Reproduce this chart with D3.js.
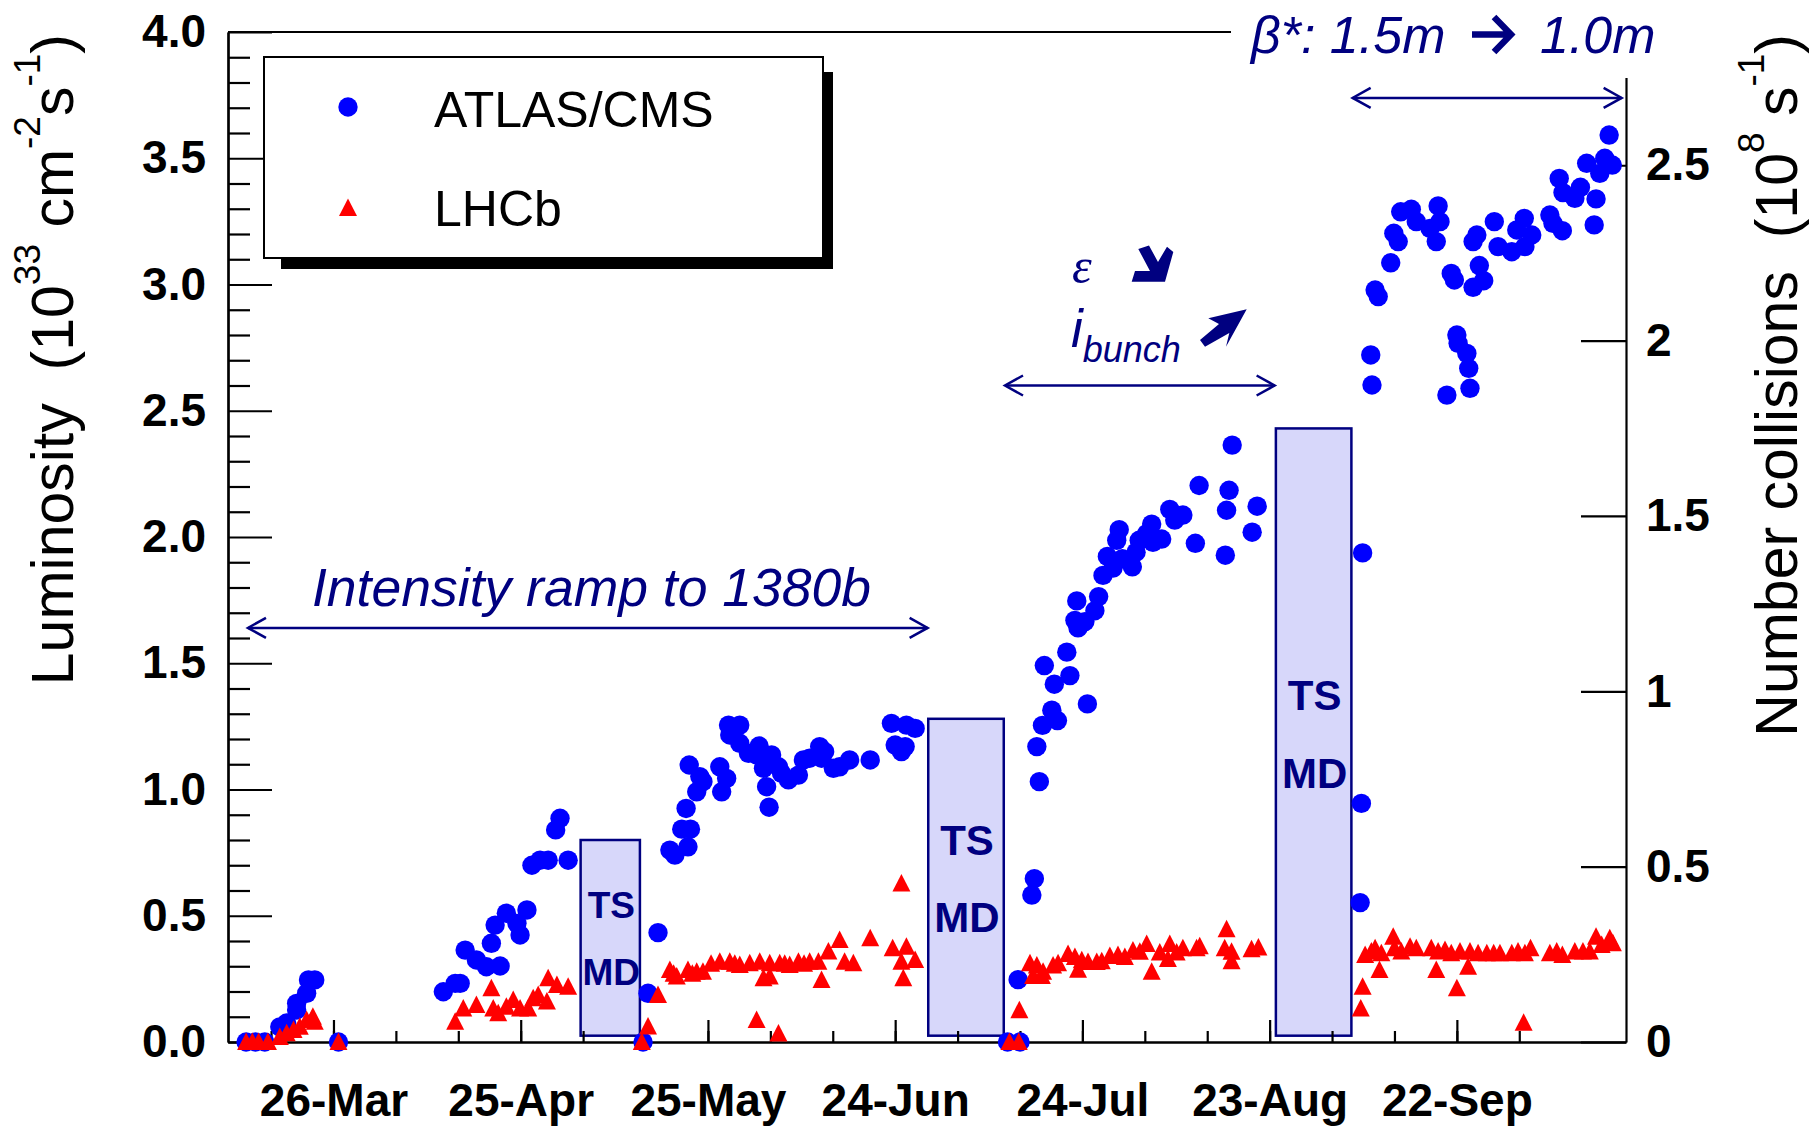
<!DOCTYPE html>
<html lang="en">
<head>
<meta charset="UTF-8" />
<title>LHC 2011 peak luminosity</title>
<script src="https://d3js.org/d3.v7.min.js"></script>
<style>
  html, body { margin: 0; padding: 0; background: #fff; }
  svg { display: block; font-family: "Liberation Sans", Arial, Helvetica, sans-serif; }
  text { white-space: pre; }
</style>
</head>
<body>
<svg id="chart" width="1814" height="1128"></svg>
<script>
// ---------------------------------------------------------
// Data: day of year 2011 and peak luminosity (1e33 cm^-2 s^-1)
// ---------------------------------------------------------
const atlasDays = [
  71.0, 72.5, 74.0, 76.4, 77.5, 79.1, 79.1, 80.7, 81.0, 82.0, 85.8,
  102.6, 104.5, 105.3, 106.1, 107.9, 109.5, 111.7, 110.3, 110.9, 112.7, 114.4, 114.9, 116.0,
  116.8, 118.1, 119.4, 120.6, 121.3, 122.6,
  134.6, 135.4, 137.0, 138.9, 139.7, 141.8, 140.8, 142.2, 141.5, 143.2, 143.7, 144.2, 142.0,
  146.9, 148.0, 147.2, 148.3, 150.1, 148.5, 150.1, 151.5, 153.2, 152.8, 153.9, 155.2, 154.9,
  154.4, 154.8, 156.3, 156.8, 157.9, 159.5, 160.3, 161.3, 162.9, 163.7, 163.2, 165.1, 166.1,
  167.7, 171.0, 174.4, 176.8, 178.2, 175.0, 176.0, 176.6,
  193.0, 195.0, 194.7, 196.9, 197.3, 197.7, 198.1, 198.6, 198.9, 200.1, 200.5, 201.0, 202.5,
  203.0, 203.8, 204.1, 204.3, 205.4, 205.8, 207.0, 207.6, 208.3, 209.0, 209.9, 210.5, 210.9,
  211.4, 213.0, 213.6, 214.1, 215.3, 216.1, 216.3, 217.7, 219.0, 219.8, 221.1, 223.1, 223.7,
  227.9, 228.1, 228.5, 229.0, 232.2, 233.0,
  249.5, 249.7, 249.9, 251.2, 251.4, 251.9, 252.4, 254.4, 254.9, 255.6, 256.0, 257.7, 258.5,
  260.7, 262.0, 262.3, 261.7, 264.1, 264.6, 265.0, 265.2, 266.6, 266.9, 267.1, 263.4, 267.6,
  268.6, 269.3, 267.6, 268.2, 271.0, 271.6, 273.8, 274.6, 275.8, 275.9, 277.0, 279.9, 280.4,
  281.9, 281.4, 282.0, 283.9, 284.8, 287.3, 287.0, 285.8, 287.9, 288.7, 289.9, 289.4
];
const atlasLumi = [
  0.00, 0.00, 0.00, 0.06, 0.075, 0.127, 0.153, 0.193, 0.246, 0.246, 0.00,
  0.199, 0.232, 0.232, 0.364, 0.325, 0.298, 0.301, 0.391, 0.463, 0.51, 0.47, 0.424, 0.523,
  0.70, 0.72, 0.72, 0.84, 0.886, 0.72,
  0.00, 0.193, 0.433, 0.76, 0.74, 0.773, 0.843, 0.843, 0.925, 0.991, 1.051, 1.031, 1.097,
  1.09, 1.044, 0.991, 1.255, 1.255, 1.216, 1.183, 1.143, 1.172, 1.137, 1.084, 1.137, 1.104,
  1.011, 0.93, 1.09, 1.064, 1.038, 1.057, 1.117, 1.124, 1.17, 1.15, 1.124, 1.084, 1.09,
  1.117, 1.117, 1.262, 1.255, 1.242, 1.176, 1.15, 1.17,
  0.00, 0.00, 0.247, 0.582, 0.647, 1.170, 1.031, 1.254, 1.491, 1.314, 1.417, 1.273, 1.544,
  1.451, 1.67, 1.747, 1.64, 1.665, 1.339, 1.708, 1.764, 1.848, 1.923, 1.877, 1.987, 2.029,
  1.914, 1.882, 1.94, 1.987, 2.013, 2.051, 1.979, 1.992, 2.109, 2.067, 2.087, 1.975, 2.204,
  1.928, 2.106, 2.185, 2.364, 2.019, 2.122,
  0.552, 0.945, 1.937, 2.721, 2.602, 2.978, 2.952, 3.086, 3.203, 3.17, 3.288, 3.298, 3.249,
  3.222, 3.311, 3.249, 3.17, 3.044, 3.018, 2.8, 2.767, 2.727, 2.668, 2.589, 2.562, 3.17,
  3.075, 3.015, 2.989, 3.196, 3.249, 3.15, 3.13, 3.216, 3.262, 3.15, 3.196, 3.275, 3.242,
  3.213, 3.42, 3.364, 3.341, 3.385, 3.339, 3.236, 3.48, 3.44, 3.5, 3.473, 3.592
];

const lhcbDays = [
  71.0, 72.0, 73.0, 74.5, 76.4, 77.5, 78.6, 79.6, 80.7, 81.5, 82.0, 81.7, 85.8,
  104.5, 105.8, 107.9, 110.3, 110.6, 111.4, 112.7, 113.8, 114.9, 116.2, 117.0, 117.8, 119.4,
  119.2, 120.8, 122.6,
  134.4, 135.4, 137.0, 138.9, 139.5, 140.0, 141.8, 142.5, 143.2, 144.2, 145.5, 146.9, 148.5,
  149.3, 150.1, 151.7, 153.3, 154.9, 156.5, 157.3, 158.1, 159.5, 160.4, 161.3, 162.7, 164.3,
  166.1, 166.9, 168.3, 171.0, 174.6, 176.0, 176.8, 176.0, 178.2, 176.3, 153.9, 154.9, 163.2,
  152.8, 156.3,
  193.3, 194.8, 194.9, 196.6, 197.7, 197.1, 198.5, 198.7, 200.3, 201.1, 202.7, 203.8, 204.3,
  204.9, 205.9, 207.3, 208.1, 209.4, 210.7, 211.8, 213.1, 214.2, 215.3, 216.1, 217.4, 218.7,
  219.0, 220.1, 221.1, 223.3, 223.8, 228.1, 227.8, 228.9, 228.9, 232.1, 233.2,
  249.6, 249.9, 250.3, 251.3, 251.9, 252.6, 252.9, 254.8, 255.0, 256.1, 257.5, 258.5, 260.9,
  261.7, 262.0, 263.1, 264.1, 265.0, 265.5, 266.8, 267.1, 268.4, 269.8, 270.9, 271.9, 273.8,
  274.8, 275.7, 275.9, 276.8, 279.9, 281.0, 281.9, 283.9, 285.2, 286.3, 287.3, 288.2, 289.5,
  290.0
];
const lhcbLumi = [
  0.00, 0.00, 0.00, 0.00, 0.02, 0.035, 0.048, 0.06, 0.087, 0.087, 0.08, 0.10, 0.00,
  0.08, 0.133, 0.147, 0.213, 0.133, 0.114, 0.14, 0.166, 0.133, 0.133, 0.173, 0.186, 0.252,
  0.16, 0.226, 0.219,
  0.00, 0.061, 0.186, 0.285, 0.27, 0.259, 0.285, 0.27, 0.278, 0.278, 0.31, 0.318, 0.318,
  0.31, 0.305, 0.312, 0.318, 0.312, 0.312, 0.31, 0.305, 0.318, 0.31, 0.318, 0.318, 0.358,
  0.404, 0.318, 0.312, 0.411, 0.371, 0.628, 0.377, 0.318, 0.325, 0.252, 0.252, 0.259, 0.246,
  0.087, 0.034,
  0.00, 0.00, 0.126, 0.312, 0.303, 0.261, 0.261, 0.278, 0.303, 0.312, 0.349, 0.337, 0.286,
  0.324, 0.317, 0.317, 0.32, 0.341, 0.345, 0.337, 0.362, 0.357, 0.388, 0.278, 0.354, 0.329,
  0.388, 0.354, 0.371, 0.371, 0.379, 0.447, 0.371, 0.357, 0.32, 0.367, 0.374,
  0.133, 0.219, 0.345, 0.358, 0.371, 0.285, 0.351, 0.417, 0.371, 0.358, 0.377, 0.371, 0.371,
  0.285, 0.358, 0.364, 0.351, 0.213, 0.358, 0.298, 0.358, 0.351, 0.351, 0.351, 0.351, 0.351,
  0.358, 0.076, 0.351, 0.371, 0.351, 0.358, 0.345, 0.358, 0.358, 0.358, 0.417, 0.384, 0.411,
  0.391
];

// technical stop / machine development periods (day of year, height in lumi units)
const tsStartDays = [124.6, 180.3, 236.0];
const tsEndDays = [134.1, 192.4, 248.1];
const tsTops = [0.80, 1.28, 2.43];
const tsBottom = 0.025;

const yLeftTicks = [0, 0.5, 1.0, 1.5, 2.0, 2.5, 3.0, 3.5, 4.0];
const yRightTicks = [0, 0.5, 1, 1.5, 2, 2.5];
const xLabelDates = ["2011-03-26", "2011-04-25", "2011-05-25", "2011-06-24",
                     "2011-07-24", "2011-08-23", "2011-09-22"];
const collisionsPerLumi = 0.72;   // 1e33 cm^-2 s^-1 x 72 mb = 0.72e8 s^-1

// ---------------------------------------------------------
// Scales
// ---------------------------------------------------------
const navy = "#000080";
const dayToDate = d => new Date(Date.UTC(2011, 0, 1) + (d - 1) * 864e5);

const svg = d3.select("#chart");
const x = d3.scaleUtc().domain([dayToDate(68.1), dayToDate(292.1)]).range([228, 1626]);
const y = d3.scaleLinear().domain([0, 4]).range([1042, 32]);
const yR = d3.scaleLinear().domain([0, 4 * collisionsPerLumi]).range([1042, 32]);

svg.append("rect").attr("width", 1814).attr("height", 1128).attr("fill", "#fff");

// ---------------------------------------------------------
// TS / MD boxes
// ---------------------------------------------------------
const tsLayout = [
  { fs: 37, ts: 0.491, md: 0.226 },
  { fs: 42, ts: 0.741, md: 0.437 },
  { fs: 42, ts: 1.315, md: 1.006 }
];
tsStartDays.forEach((s, i) => {
  const x0 = x(dayToDate(s)), x1 = x(dayToDate(tsEndDays[i]));
  svg.append("rect")
    .attr("x", x0).attr("y", y(tsTops[i]))
    .attr("width", x1 - x0).attr("height", y(tsBottom) - y(tsTops[i]))
    .attr("fill", "#d7d7fa").attr("stroke", navy).attr("stroke-width", 2.5);
  ["TS", "MD"].forEach(lbl => {
    svg.append("text")
      .attr("x", (x0 + x1) / 2 + 1)
      .attr("y", y(lbl === "TS" ? tsLayout[i].ts : tsLayout[i].md))
      .attr("text-anchor", "middle")
      .attr("font-size", tsLayout[i].fs).attr("font-weight", "bold")
      .attr("fill", navy).text(lbl);
  });
});

// ---------------------------------------------------------
// Frame and axes
// ---------------------------------------------------------
function styleAxis(g, fs) {
  g.selectAll("path, line").attr("stroke", "#000").attr("stroke-width", 2.2);
  g.selectAll("text").attr("font-size", fs).attr("font-weight", "bold")
    .attr("fill", "#000").attr("font-family", "Liberation Sans, Arial, sans-serif");
}

svg.append("line").attr("x1", 228).attr("x2", 1626).attr("y1", 32).attr("y2", 32)
  .attr("stroke", "#000").attr("stroke-width", 2.2);

// left axis: major + minor ticks pointing inwards
const minorY = d3.range(0, 40).filter(k => k % 5 !== 0).map(k => k / 10);
svg.append("g").attr("transform", "translate(228,0)")
  .call(d3.axisLeft(y).tickValues(minorY).tickSizeInner(-22).tickSizeOuter(0).tickFormat(""))
  .call(g => styleAxis(g, 46));
svg.append("g").attr("transform", "translate(228,0)")
  .call(d3.axisLeft(y).tickValues(yLeftTicks).tickSizeInner(-44).tickSizeOuter(0)
    .tickPadding(22).tickFormat(d3.format(".1f")))
  .call(g => styleAxis(g, 46));

// bottom axis: ticks every 10 days, long ones at labels
const labelDates = xLabelDates.map(s => new Date(s + "T00:00:00Z"));
const minorX = d3.range(-1, 20).map(k => dayToDate(85 + 10 * k))
  .filter(d => d >= x.domain()[0] && d <= x.domain()[1]);
svg.append("g").attr("transform", "translate(0,1042)")
  .call(d3.axisBottom(x).tickValues(minorX).tickSizeInner(-11).tickSizeOuter(0).tickFormat(""))
  .call(g => styleAxis(g, 46));
svg.append("g").attr("transform", "translate(0,1042)")
  .call(d3.axisBottom(x).tickValues(labelDates).tickSizeInner(-22).tickSizeOuter(0)
    .tickPadding(41).tickFormat(d3.utcFormat("%d-%b")))
  .call(g => styleAxis(g, 46));

// right axis: number of collisions
svg.append("g").attr("transform", "translate(1626,0)")
  .call(d3.axisRight(yR).tickValues(yRightTicks).tickSizeInner(-45).tickSizeOuter(0)
    .tickPadding(20).tickFormat(d3.format("~g")))
  .call(g => styleAxis(g, 46));

// white patch behind the beta* label hides the frame corner
svg.append("rect").attr("x", 1231).attr("y", 0).attr("width", 440).attr("height", 78).attr("fill", "#fff");

// ---------------------------------------------------------
// Points
// ---------------------------------------------------------
svg.append("g").selectAll("circle")
  .data(atlasDays.map((d, i) => [d, atlasLumi[i]]))
  .join("circle")
  .attr("cx", d => x(dayToDate(d[0])))
  .attr("cy", d => y(d[1]))
  .attr("r", 9.7)
  .attr("fill", "#0000ff");

const tri = "M0,-9.5L9,8L-9,8Z";
svg.append("g").selectAll("path")
  .data(lhcbDays.map((d, i) => [d, lhcbLumi[i]]))
  .join("path")
  .attr("transform", d => `translate(${x(dayToDate(d[0]))},${y(d[1])})`)
  .attr("d", tri)
  .attr("fill", "#ff0000");

// ---------------------------------------------------------
// Axis titles
// ---------------------------------------------------------
function axisTitle(tx, parts) {
  const t = svg.append("text")
    .attr("transform", `translate(${tx},34) rotate(-90)`)
    .attr("text-anchor", "end").attr("font-size", 59).attr("fill", "#000");
  let raised = false;
  parts.forEach(p => {
    const sup = p.sup === true;
    const ts = t.append("tspan").text(p.t);
    if (sup) { ts.attr("font-size", 37).attr("dy", raised ? 0 : -33); raised = true; }
    else { if (raised) ts.attr("dy", 33); raised = false; }
  });
}
axisTitle(73, [
  { t: "Luminosity  (10" }, { t: "33", sup: true }, { t: " cm" }, { t: "-2", sup: true },
  { t: "s" }, { t: "-1", sup: true }, { t: ")" }
]);
axisTitle(1797, [
  { t: "Number collisions  (10" }, { t: "8", sup: true }, { t: " s" }, { t: "-1", sup: true },
  { t: ")" }
]);

// ---------------------------------------------------------
// Legend
// ---------------------------------------------------------
svg.append("rect").attr("x", 281).attr("y", 72).attr("width", 552).attr("height", 197).attr("fill", "#000");
svg.append("rect").attr("x", 264).attr("y", 57).attr("width", 559).attr("height", 201)
  .attr("fill", "#fff").attr("stroke", "#000").attr("stroke-width", 2);
svg.append("circle").attr("cx", 348).attr("cy", 107).attr("r", 9.7).attr("fill", "#0000ff");
svg.append("path").attr("transform", "translate(348,208)").attr("d", tri).attr("fill", "#ff0000");
svg.append("text").attr("x", 434).attr("y", 127).attr("font-size", 50).text("ATLAS/CMS");
svg.append("text").attr("x", 434).attr("y", 226).attr("font-size", 50).text("LHCb");

// ---------------------------------------------------------
// Annotations
// ---------------------------------------------------------
function doubleArrow(d1, d2, lumi) {
  const x1 = x(dayToDate(d1)), x2 = x(dayToDate(d2)), yy = y(lumi);
  const g = svg.append("g").attr("stroke", navy).attr("stroke-width", 2.5).attr("fill", "none");
  g.append("line").attr("x1", x1).attr("x2", x2).attr("y1", yy).attr("y2", yy);
  g.append("path").attr("d", `M${x1 + 18},${yy - 10}L${x1},${yy}L${x1 + 18},${yy + 10}`);
  g.append("path").attr("d", `M${x2 - 18},${yy - 10}L${x2},${yy}L${x2 - 18},${yy + 10}`);
}
doubleArrow(71.3, 180.2, 1.64);
doubleArrow(192.6, 235.8, 2.6);
doubleArrow(248.3, 291.4, 3.739);

svg.append("text").attr("x", 312).attr("y", 606)
  .attr("font-size", 53.5).attr("font-style", "italic").attr("fill", navy)
  .text("Intensity ramp to 1380b");

// beta* label: text pieces with a bold drawn arrow between them
svg.append("text").attr("x", 1251).attr("y", 53)
  .attr("font-size", 52).attr("font-style", "italic").attr("fill", navy)
  .text("\u03b2*: 1.5m");
svg.append("text").attr("x", 1540).attr("y", 53)
  .attr("font-size", 52).attr("font-style", "italic").attr("fill", navy)
  .text("1.0m");
svg.append("path").attr("fill", "none").attr("stroke", navy)
  .attr("stroke-width", 6.5).attr("stroke-linejoin", "miter")
  .attr("d", "M1472,34.5H1510M1494,17L1511,34.5L1494,52");

svg.append("text").attr("x", 1072).attr("y", 283)
  .attr("font-family", "Liberation Serif, serif").attr("font-style", "italic")
  .attr("font-size", 50).attr("fill", navy).text("\u03b5");
const ib = svg.append("text").attr("x", 1071).attr("y", 347)
  .attr("font-style", "italic").attr("font-size", 53).attr("fill", navy);
ib.append("tspan").text("i");
ib.append("tspan").attr("font-size", 36).attr("dy", 15).attr("dx", 0).text("bunch");

// bold arrows (down-right and up-right)
svg.append("path").attr("fill", navy)
  .attr("d", "M1138.3,249L1149,245.5L1158,262L1167,246.7L1173.3,252L1165,281.7L1131.7,281.7L1135,271L1150,271Z");
svg.append("path").attr("fill", navy)
  .attr("d", "M1246.7,309.3L1226,346.7L1229.3,333L1205,346.7L1200,340L1219,324L1208.3,318.3Z");
</script>
</body>
</html>
